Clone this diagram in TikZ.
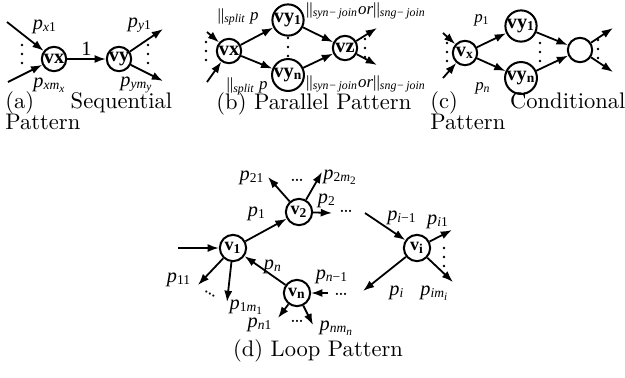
\documentclass[tikz,border=0pt]{standalone}
\usepackage{fontspec}
\newfontfamily\tms{Liberation Serif}
\usetikzlibrary{arrows.meta}

% edge labels p_{...}
\newcommand{\pv}[1]{{\tms\itshape p\textsubscript{#1}}}
\newcommand{\up}[1]{\textup{#1}}
\newcommand{\splitlbl}{{\tms\textbar\textbar\textsubscript{\itshape split}\ \textit{p}}}
\newcommand{\joinlbl}{{\tms\textbar\textbar\textsubscript{\itshape syn−\,join}\textit{or}\textbar\textbar\textsubscript{\itshape sng−\,join}}}

\begin{document}
\begin{tikzpicture}[x=0.0156cm,y=-0.0156cm,
  >={Latex[length=5pt,width=3.6pt]},
  vtx/.style={circle,draw,line width=0.9pt,minimum size=0.38cm,inner sep=0pt,
    font=\tms\bfseries\fontsize{9}{9}\selectfont},
  lvtx/.style={vtx,minimum size=0.41cm,font=\tms\bfseries\fontsize{8}{8}\selectfont},
  arr/.style={->,line width=0.8pt},
  lbl/.style={inner sep=0pt,font=\fontsize{9}{10}\selectfont},
  slbl/.style={inner sep=0pt,font=\fontsize{7.5}{8}\selectfont},
  vdts/.pic={\foreach \k in {0,1,2} \fill (0pt,\k*4pt) circle (0.6pt);},
  hd/.style={inner sep=0pt,font=\fontsize{9}{9}\selectfont},
  capbox/.style={inner sep=0pt,anchor=north west,font=\fontsize{10}{9.5}\selectfont}]

\path[use as bounding box] (0,0) rectangle (625,377);

%--------------------
% (a) sequential
%--------------------
\node[vtx] (ax) at (54,59) {vx};
\node[vtx] (ay) at (119,59) {vy};
\coordinate (ai1) at (7,22);
\coordinate (ai2) at (8,82);
\coordinate (ao1) at (163,29);
\coordinate (ao2) at (163,81);

\draw[arr] (ai1) -- (ax);
\draw[arr] (ai2) -- (ax);
\draw[arr] (ax) -- node[above,inner sep=1pt,font=\tms\fontsize{9}{9}\selectfont] (a1) {1} (ay);
\draw[arr] (ay) -- (ao1);
\draw[arr] (ay) -- (ao2);

\pic at (22,63) {vdts};
\pic at (148,63) {vdts};

\node[lbl] (apx1) at (45,27) {\pv{x\up{1}}};
\node[lbl] (apxm) at (50,85) {\pv{xm\textsubscript{x}}};
\node[lbl] (apy1) at (140,25) {\pv{y\up{1}}};
\node[lbl] (apym) at (137,85) {\pv{ym\textsubscript{y}}};

\node[capbox,text width=2.6cm,align=justify] (acap) at (5,91) {(a) Sequential Pattern};

%--------------------
% (b) parallel
%--------------------
\node[vtx] (bx) at (229,51) {vx};
\node[vtx] (by1) at (288,20) {vy\textsubscript{1}};
\node[vtx] (byn) at (288,75) {vy\textsubscript{n}};
\node[vtx] (bz) at (345,48) {vz};
\coordinate (bi1) at (207,32);
\coordinate (bi2) at (207,82);
\coordinate (bo1) at (377,28);
\coordinate (bo2) at (377,65);

\draw[arr] (bi1) -- (bx);
\draw[arr] (bi2) -- (bx);
\draw[arr] (bx) -- (by1);
\draw[arr] (bx) -- (byn);
\draw[arr] (by1) -- (bz);
\draw[arr] (byn) -- (bz);
\draw[arr] (bz) -- (bo1);
\draw[arr] (bz) -- (bo2);

\pic at (206,60) {vdts};
\pic at (288,56) {vdts};
\pic at (365,57) {vdts};

\node[slbl] (bs1) at (238,17) {\splitlbl};
\node[slbl] (bs2) at (247,86) {\splitlbl};
\node[slbl] (bj1) at (366,11) {\joinlbl};
\node[slbl] (bj2) at (366,84) {\joinlbl};

\node[capbox] (bcap) at (216,92) {(b) Parallel Pattern};

%--------------------
% (c) conditional
%--------------------
\node[vtx] (cx) at (465,53) {v\textsubscript{x}};
\node[vtx] (cy1) at (521,26) {vy\textsubscript{1}};
\node[vtx] (cyn) at (521,78) {vy\textsubscript{n}};
\node[vtx] (cz) at (580,50) {};
\coordinate (ci1) at (443,33);
\coordinate (ci2) at (443,78);
\coordinate (co1) at (613,28);
\coordinate (co2) at (613,72);

\draw[arr] (ci1) -- (cx);
\draw[arr] (ci2) -- (cx);
\draw[arr] (cx) -- (cy1);
\draw[arr] (cx) -- (cyn);
\draw[arr] (cy1) -- (cz);
\draw[arr] (cyn) -- (cz);
\draw[arr] (cz) -- (co1);
\draw[arr] (cz) -- (co2);

\pic at (447,61) {vdts};
\pic at (540,61) {vdts};
\pic at (598,58) {vdts};

\node[slbl] (cp1) at (482,20) {\pv{\up{1}}};
\node[slbl] (cpn) at (483,88) {\pv{n}};

\node[capbox,text width=3.04cm,align=justify] (ccap) at (430,91) {(c) Conditional Pattern};

%--------------------
% (d) loop
%--------------------
\node[lvtx] (v1) at (233,248) {v\textsubscript{1}};
\node[lvtx] (v2) at (299,212) {v\textsubscript{2}};
\node[lvtx] (vi) at (417,248) {v\textsubscript{i}};
\node[lvtx] (vn) at (297,293) {v\textsubscript{n}};

\coordinate (din) at (178,248);
\coordinate (d21) at (268,177);
\coordinate (d2m) at (322,172);
\coordinate (d2o) at (332,213);
\coordinate (dii) at (365,213);
\coordinate (di1) at (452,230);
\coordinate (dio) at (363,291);
\coordinate (dim) at (453,282);
\coordinate (dni) at (328,293);
\coordinate (dn1) at (278,318);
\coordinate (dnm) at (313,325);
\coordinate (d11) at (198,285);
\coordinate (d1m) at (227,302);

\draw[arr] (din) -- (v1);
\draw[arr] (v1) -- (v2);
\draw[arr] (v2) -- (d21);
\draw[arr] (v2) -- (d2m);
\draw[arr] (v2) -- (d2o);
\draw[arr] (dii) -- (vi);
\draw[arr] (vi) -- (di1);
\draw[arr] (vi) -- (dio);
\draw[arr] (vi) -- (dim);
\draw[arr] (dni) -- (vn);
\draw[arr] (vn) -- (v1);
\draw[arr] (vn) -- (dn1);
\draw[arr] (vn) -- (dnm);
\draw[arr] (v1) -- (d11);
\draw[arr] (v1) -- (d1m);

% dots
\node[hd] (dd2) at (297,180) {\ldots};
\node[hd] (dd2o) at (346,211) {\ldots};
\pic at (444,266) {vdts};
\node[hd] (ddn) at (341,294) {\ldots};
\node[hd] (ddn1) at (297,321) {\ldots};
\node[hd,rotate=-30] (dd1) at (210,294) {\ldots};

% labels
\node[lbl] (lp1) at (257,214) {\pv{\up{1}}};
\node[lbl] (lp21) at (252,178) {\pv{\up{21}}};
\node[lbl,anchor=west] (lp2m) at (323,177) {\pv{\up{2}m\textsubscript{\up{2}}}};
\node[lbl] (lp2) at (327,201) {\pv{\up{2}}};
\node[lbl] (lpi1m) at (402,218) {\pv{i\up{−1}}};
\node[lbl] (lpi1) at (438,222) {\pv{i\up{1}}};
\node[lbl] (lpi) at (397,293) {\pv{i}};
\node[lbl] (lpim) at (435,293) {\pv{im\textsubscript{i}}};
\node[lbl] (lpn) at (273,267) {\pv{n}};
\node[lbl] (lpn1m) at (332,277) {\pv{n\up{−1}}};
\node[lbl] (lpn1) at (260,325) {\pv{n\up{1}}};
\node[lbl] (lpnm) at (337,328) {\pv{nm\textsubscript{n}}};
\node[lbl] (lp11) at (179,280) {\pv{\up{11}}};
\node[lbl] (lp1m) at (247,307) {\pv{\up{1}m\textsubscript{\up{1}}}};

\node[inner sep=0pt,font=\fontsize{10}{10}\selectfont] (dcap) at (318,351) {(d) Loop Pattern};

\end{tikzpicture}
\end{document}
